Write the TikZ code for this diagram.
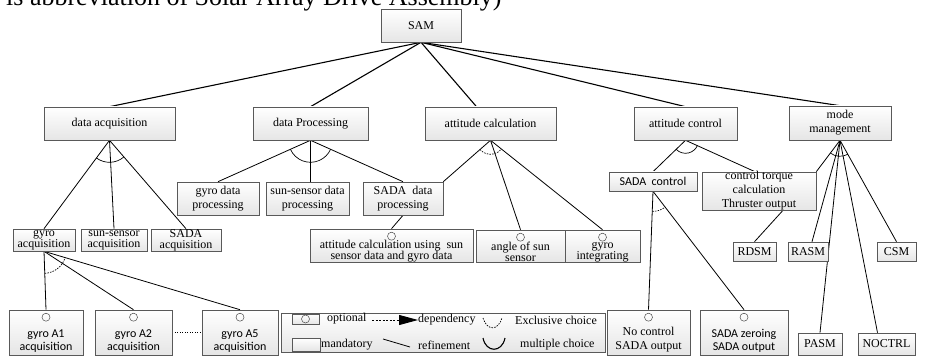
\documentclass[tikz,border=0pt]{standalone}
\usepackage{fontspec}
\setmainfont{Liberation Serif}
\newfontfamily\calibri{Carlito}
\usepackage{tikz}
\usetikzlibrary{calc}
\usetikzlibrary{shadows}
\usetikzlibrary{arrows.meta}
\usetikzlibrary{backgrounds}
\newcommand{\btext}[3]{\parbox[c][#2pt][c]{#1pt}{\centering #3}}
\newcommand{\otext}[4][0]{\parbox[c][#3pt][b]{#2pt}{\centering #4\par\vspace{#1pt}}}
\newcommand{\choicearc}[5][]{%
  \draw[#1] let \p1=($#3-#2$), \p2=($#4-#2$),
    \n1={atan2(\y1,\x1)}, \n2={atan2(\y2,\x2)} in
    ($#2+(\n1:#5)$) arc[start angle=\n1, end angle=\n2, radius=#5];}

\begin{document}
\begin{tikzpicture}[x=1pt,y=1pt,
  feat/.style={draw=black!65, line width=0.6pt, top color=white, bottom color=black!10,
               drop shadow={shadow xshift=1.2pt, shadow yshift=-1.2pt, fill=black!30},
               inner sep=0pt, font=\fontsize{12}{14}\selectfont},
  sans/.style={font=\calibri\fontsize{12}{13}\selectfont},
  tight/.style={font=\fontsize{12}{11}\selectfont},
  toplink/.style={line width=1.1pt},
  link/.style={line width=0.8pt},
  mult/.style={line width=0.7pt},
  excl/.style={line width=0.7pt, dash pattern=on 1.5pt off 1.2pt},
  optc/.style={draw=black!70, line width=0.5pt},
  legtext/.style={anchor=west, inner sep=0pt, font=\fontsize{12}{14}\selectfont}]
  \useasboundingbox (0,0) rectangle (925,-358);

  \node[anchor=base west, inner sep=0pt, font=\fontsize{26}{30}\selectfont] (cap) at (6,-6)
    {is abbreviation of Solar Array Drive Assembly)};

  \node[feat] (sam) at (421,-25.5) {\btext{80}{33}{SAM}};
  \node[feat] (da) at (109.5,-123.5) {\btext{131}{33}{data acquisition}};
  \node[feat] (dp) at (310.5,-123.5) {\btext{115}{33}{data Processing}};
  \node[feat] (ac) at (490.5,-123.5) {\btext{131}{33}{attitude calculation}};
  \node[feat] (actl) at (685.5,-123.5) {\btext{103}{33}{attitude control}};
  \node[feat] (mm) at (840,-123) {\btext{102}{34}{mode\\management}};

  \node[feat] (gdp) at (218,-198.5) {\btext{82}{33}{gyro data\\processing}};
  \node[feat] (sdp) at (307.5,-198.5) {\btext{83}{33}{sun-sensor data\\processing}};
  \node[feat] (adp) at (403,-198.5) {\btext{80}{33}{SADA\ \ data\\processing}};

  \node[feat,tight] (gacq) at (44,-240) {\btext{62}{22}{gyro\\acquisition}};
  \node[feat,tight] (sacq) at (114,-240) {\btext{66}{22}{sun-sensor\\acquisition}};
  \node[feat,tight] (aacq) at (186,-240) {\btext{70}{22}{SADA\\acquisition}};

  \node[feat,tight] (acu) at (391.5,-245.5) {\otext{163}{33}{attitude calculation using\ \ sun\\sensor data and gyro data}};
  \node[feat,tight] (ass) at (520.5,-246) {\otext{89}{32}{angle of sun\\sensor}};
  \node[feat,tight] (gint) at (602.5,-246) {\otext{75}{32}{gyro\\integrating}};

  \node[feat,sans] (sctl) at (653,-181.5) {\btext{88}{19}{SADA\ \ control}};
  \node[feat] (ctc) at (759,-191) {\btext{114}{38}{control torque\\calculation\\Thruster output}};
  \node[feat] (rdsm) at (754.5,-251.5) {\btext{43}{19}{RDSM}};
  \node[feat] (rasm) at (808,-251.5) {\btext{40}{19}{RASM}};
  \node[feat] (csm) at (896.5,-251.5) {\btext{39}{19}{CSM}};
  \node[feat] (pasm) at (820,-344) {\btext{44}{22}{PASM}};
  \node[feat] (noctrl) at (886.5,-344) {\btext{57}{22}{NOCTRL}};
  \node[feat] (ncso) at (648.5,-332.5) {\otext[3]{83}{45}{No control\\SADA output}};
  \node[feat,sans] (szso) at (744,-332.5) {\otext[3]{88}{45}{SADA zeroing\\SADA output}};

  \node[feat,sans] (ga1) at (46,-332.5) {\otext[3]{74}{45}{gyro A1\\acquisition}};
  \node[feat,sans] (ga2) at (133.5,-332.5) {\otext[3]{77}{45}{gyro A2\\acquisition}};
  \node[feat,sans] (ga5) at (240,-332.5) {\otext[3]{76}{45}{gyro A5\\acquisition}};

  \foreach \n in {acu,ass,gint,ncso,szso,ga1,ga2,ga5}
    \draw[optc] ([yshift=-7.5pt]\n.north) circle[radius=4];

  % legend
  \node[feat, minimum width=324pt, minimum height=39pt] (leg) at (443,-332.5) {};
  \node[feat, minimum width=27pt, minimum height=10pt] (legopt) at (305.5,-319) {};
  \draw[optc] (legopt.center) circle[radius=4];
  \node[feat, minimum width=28pt, minimum height=13pt] (legman) at (306,-344.5) {};
  \node[legtext] (lopt) at (327,-319) {optional};
  \node[legtext] (ldep) at (418,-320) {dependency};
  \node[legtext] (lexc) at (515,-320) {Exclusive choice};
  \node[legtext] (lman) at (321,-345) {mandatory};
  \node[legtext] (lref) at (418,-345) {refinement};
  \node[legtext] (lmul) at (520,-345) {multiple choice};
  \coordinate (depst) at (372,-320);
  \draw[line width=0.9pt, dash pattern=on 2pt off 1.5pt, -{Triangle[length=19pt,width=10pt]}]
    (depst) -- (ldep.west);
  \draw[excl] (483,-318) .. controls (487,-331) and (498,-331) .. (502,-318);
  \draw[link] (383,-339) -- (410,-347);
  \draw[line width=1.1pt] (483,-338) .. controls (486,-353) and (502,-353) .. (505,-338);

  \begin{scope}[on background layer]
    \path[toplink] (sam.south) edge (da.north) edge (dp.north)
      edge ([xshift=-14pt]ac.north) edge (actl.north) edge (mm.north);
    \path[link] (da.south) edge (gacq.north) edge (sacq.north) edge (aacq.north);
    \path[link] (dp.south) edge (gdp.north) edge (dp.south |- sdp.north) edge (adp.north);
    \path[link] (ac.south) edge (adp.north east) edge (ass.north) edge (gint.north);
    \path[link] (actl.south) edge (sctl.north) edge ([xshift=-4pt]ctc.north);
    \path[link] (mm.south) edge (ctc.north east) edge ([xshift=4pt]rasm.north)
      edge (pasm.north) edge ([xshift=-9pt]noctrl.north) edge (csm.north);
    \draw[link] (adp.south) -- (acu.north);
    \draw[link] ([xshift=24pt]ctc.south) -- (rdsm.north);
    \path[link] (sctl.south) edge (ncso.north) edge (szso.north);
    \path[link] (gacq.south) edge (ga1.north) edge (ga2.north) edge (ga5.north);
    \draw[line width=0.8pt, dash pattern=on 1pt off 1.5pt] (ga2.east) -- (ga5.west);
  \end{scope}

  \choicearc[mult]{(da.south)}{(gacq.north)}{(aacq.north)}{22}
  \choicearc[mult]{(dp.south)}{(gdp.north)}{(adp.north)}{22}
  \choicearc[excl]{(ac.south)}{(adp.north east)}{(gint.north)}{14}
  \choicearc[mult]{(actl.south)}{(sctl.north)}{(ctc.north)}{13}
  \choicearc[mult]{(mm.south)}{(ctc.north east)}{(csm.north)}{16}
  \choicearc[excl]{(sctl.south)}{(ncso.north)}{(szso.north)}{20}
  \choicearc[excl]{(gacq.south)}{(ga1.north)}{(ga5.north)}{22}
\end{tikzpicture}
\end{document}
